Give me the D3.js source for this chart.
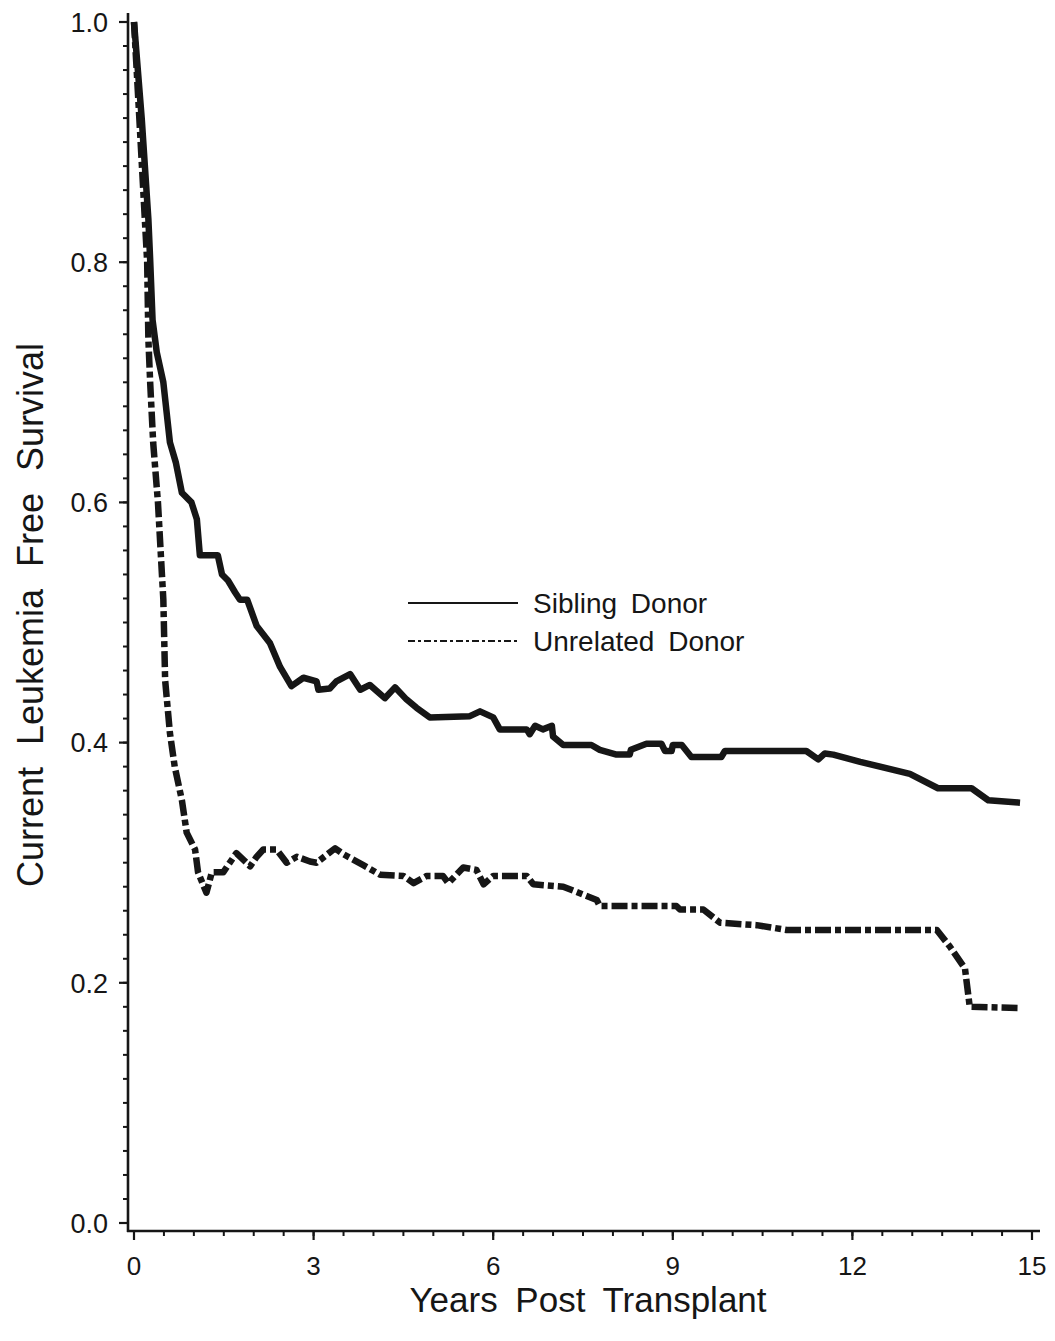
<!DOCTYPE html>
<html>
<head>
<meta charset="utf-8">
<script src="https://cdn.jsdelivr.net/npm/d3@7"></script>
<style>
  html, body { margin: 0; padding: 0; background: #fff; }
  svg { display: block; font-family: "Liberation Sans", Arial, Helvetica, sans-serif; }
</style>
</head>
<body>
<svg id="chart" width="1055" height="1341"></svg>
<script>
// ---- Data ----
const xTickValues = [0, 3, 6, 9, 12, 15];
const yTickValues = [0.0, 0.2, 0.4, 0.6, 0.8, 1.0];
const seriesNames = ["Sibling Donor", "Unrelated Donor"];

const siblingYears = [0,0.13,0.24,0.27,0.31,0.38,0.49,0.6,0.7,0.8,0.96,1.05,1.1,1.4,1.47,1.57,1.69,1.77,1.89,2.05,2.27,2.44,2.63,2.83,3.05,3.08,3.27,3.38,3.61,3.78,3.94,4.19,4.36,4.55,4.72,4.94,5.61,5.78,6.0,6.11,6.56,6.61,6.70,6.83,6.98,7.0,7.17,7.64,7.78,8.06,8.28,8.30,8.56,8.81,8.87,8.98,9.0,9.15,9.31,9.81,9.87,11.23,11.43,11.54,11.68,12.13,12.96,13.43,13.99,14.27,14.80];
const siblingSurvival = [1.0,0.919,0.836,0.802,0.752,0.725,0.70,0.65,0.633,0.608,0.60,0.586,0.556,0.556,0.54,0.535,0.525,0.519,0.519,0.497,0.483,0.463,0.447,0.454,0.451,0.444,0.445,0.451,0.457,0.444,0.448,0.437,0.446,0.436,0.429,0.421,0.422,0.426,0.421,0.411,0.411,0.407,0.414,0.411,0.414,0.405,0.398,0.398,0.394,0.390,0.390,0.394,0.399,0.399,0.393,0.393,0.398,0.398,0.388,0.388,0.393,0.393,0.386,0.391,0.390,0.384,0.374,0.362,0.362,0.352,0.350];

const unrelatedYears = [0,0.09,0.22,0.24,0.27,0.32,0.40,0.49,0.52,0.60,0.68,0.80,0.88,1.02,1.07,1.21,1.30,1.49,1.71,1.94,2.05,2.16,2.38,2.55,2.72,2.94,3.05,3.36,3.50,3.83,4.11,4.50,4.67,4.89,5.16,5.25,5.50,5.72,5.84,6.0,6.56,6.67,7.17,7.73,7.78,9.06,9.12,9.51,9.79,10.40,10.9,13.41,13.63,13.88,13.96,14.80];
const unrelatedSurvival = [1.0,0.919,0.80,0.736,0.70,0.65,0.60,0.519,0.452,0.408,0.380,0.352,0.325,0.311,0.292,0.275,0.292,0.292,0.308,0.297,0.305,0.311,0.311,0.300,0.305,0.301,0.300,0.312,0.307,0.298,0.290,0.289,0.283,0.289,0.289,0.283,0.296,0.294,0.282,0.289,0.289,0.282,0.280,0.269,0.264,0.264,0.261,0.261,0.250,0.248,0.244,0.244,0.230,0.212,0.180,0.179];

// ---- Chart ----
const svg = d3.select("#chart");
const ink = "#161616";

const x = d3.scaleLinear().domain([0, 15]).range([134, 1032]);
const y = d3.scaleLinear().domain([0, 1]).range([1223, 22]);

const xAxisY = y(0) + 8;     // axis line offset below the data range
const yAxisX = x(0) - 6;     // axis line offset left of the data range

// Y axis
const yMinor = d3.range(0, 1.0001, 0.02).map(v => +v.toFixed(2));
const gy = svg.append("g").attr("transform", `translate(${yAxisX},0)`);
gy.append("line").attr("x1", 0).attr("x2", 0)
  .attr("y1", y(1) - 9).attr("y2", xAxisY + 1)
  .attr("stroke", ink).attr("stroke-width", 2.6);
gy.selectAll("line.minor").data(yMinor).join("line").attr("class", "minor")
  .attr("x1", -5).attr("x2", 0).attr("y1", d => y(d)).attr("y2", d => y(d))
  .attr("stroke", ink).attr("stroke-width", 2);
gy.selectAll("line.major").data(yTickValues).join("line").attr("class", "major")
  .attr("x1", -9).attr("x2", 0).attr("y1", d => y(d)).attr("y2", d => y(d))
  .attr("stroke", ink).attr("stroke-width", 2.2);
gy.selectAll("text").data(yTickValues).join("text")
  .attr("x", -20).attr("y", d => y(d)).attr("dy", "0.36em")
  .attr("text-anchor", "end").attr("font-size", 27).attr("fill", ink)
  .text(d3.format(".1f"));

// X axis
const xMinor = d3.range(0, 15.0001, 0.5);
const gx = svg.append("g").attr("transform", `translate(0,${xAxisY})`);
gx.append("line").attr("x1", yAxisX - 1).attr("x2", x(15) + 8)
  .attr("y1", 0).attr("y2", 0)
  .attr("stroke", ink).attr("stroke-width", 2.6);
gx.selectAll("line.minor").data(xMinor).join("line").attr("class", "minor")
  .attr("x1", d => x(d)).attr("x2", d => x(d)).attr("y1", 0).attr("y2", 5)
  .attr("stroke", ink).attr("stroke-width", 2);
gx.selectAll("line.major").data(xTickValues).join("line").attr("class", "major")
  .attr("x1", d => x(d)).attr("x2", d => x(d)).attr("y1", 0).attr("y2", 9)
  .attr("stroke", ink).attr("stroke-width", 2.2);
gx.selectAll("text").data(xTickValues).join("text")
  .attr("x", d => x(d)).attr("y", 44)
  .attr("text-anchor", "middle").attr("font-size", 26).attr("fill", ink)
  .text(d => d);

// Axis titles
svg.append("text")
  .attr("x", 588).attr("y", 1312)
  .attr("text-anchor", "middle").attr("font-size", 35).attr("word-spacing", 8)
  .attr("fill", ink).text("Years Post Transplant");
svg.append("text")
  .attr("transform", `translate(43,${(340 + 890) / 2}) rotate(-90)`)
  .attr("text-anchor", "middle").attr("font-size", 36).attr("word-spacing", 12)
  .attr("fill", ink).text("Current Leukemia Free Survival");

// Curves
const line = d3.line().x(d => x(d[0])).y(d => y(d[1])).curve(d3.curveLinear);
const sibling = siblingYears.map((t, i) => [t, siblingSurvival[i]]);
const unrelated = unrelatedYears.map((t, i) => [t, unrelatedSurvival[i]]);
const dashPattern = "16,4,6,4";

svg.append("path").datum(sibling).attr("d", line)
  .attr("fill", "none").attr("stroke", ink).attr("stroke-width", 6.5)
  .attr("stroke-linejoin", "round");
svg.append("path").datum(unrelated).attr("d", line)
  .attr("fill", "none").attr("stroke", ink).attr("stroke-width", 6.5)
  .attr("stroke-linejoin", "round").attr("stroke-dasharray", dashPattern);

// Legend
const legend = svg.append("g").attr("transform", "translate(408,603)");
const legendItems = legend.selectAll("g").data(seriesNames).join("g")
  .attr("transform", (d, i) => `translate(0,${i * 38})`);
legendItems.append("line")
  .attr("x1", 0).attr("x2", 110).attr("y1", 0).attr("y2", 0)
  .attr("stroke", ink).attr("stroke-width", 1.8)
  .attr("stroke-dasharray", (d, i) => i === 1 ? "7,3,3,3" : null);
legendItems.append("text")
  .attr("x", 125).attr("y", 0).attr("dy", "0.36em")
  .attr("font-size", 28).attr("word-spacing", 6).attr("fill", ink)
  .text(d => d);
</script>
</body>
</html>
